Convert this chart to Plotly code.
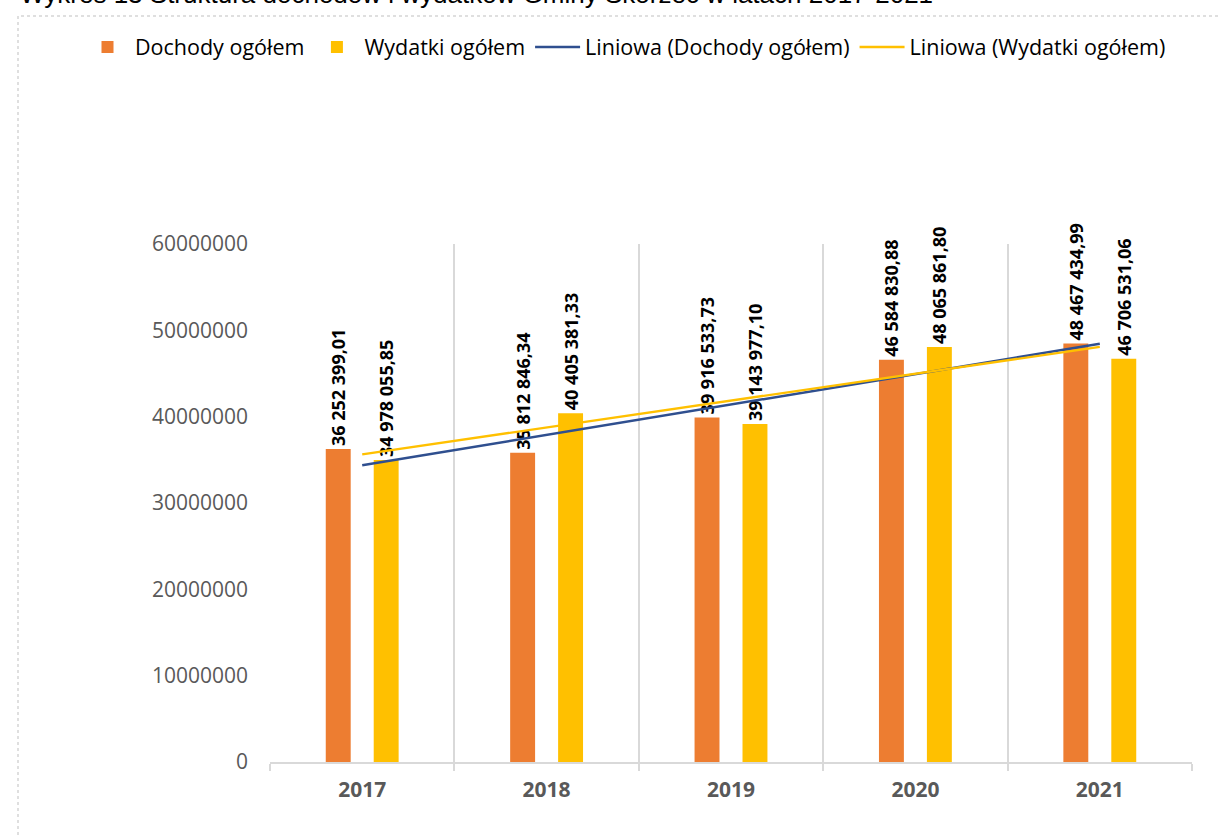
import numpy as np
import plotly.graph_objects as go

years = ["2017", "2018", "2019", "2020", "2021"]
dochody = [36252399.01, 35812846.34, 39916533.73, 46584830.88, 48467434.99]
wydatki = [34978055.85, 40405381.33, 39143977.10, 48065861.80, 46706531.06]
y_ticks = [0, 10000000, 20000000, 30000000, 40000000, 50000000, 60000000]
title_text = "Wykres 13 Struktura dochodów i wydatków Gminy Skórzec w latach 2017-2021"


def fmt(v):
    s = f"{v:,.2f}"
    return s.replace(",", " ").replace(".", ",")


def trend(vals):
    xs = np.arange(1, len(vals) + 1)
    a, b = np.polyfit(xs, vals, 1)
    return list(a * xs + b)


W, H = 1218, 838
L, R, T, B = 270, 1192, 244, 762


def px_x(p):
    return (p - L) / (R - L)


def px_y(p):
    return (B - p) / (B - T)


ORANGE = "#ED7D31"
YELLOW = "#FFC000"
BLUE = "#2F4F8F"
label_font = dict(family="Open Sans, Liberation Sans, sans-serif", size=18, color="black", weight="bold")

fig = go.Figure()
fig.add_trace(go.Bar(
    x=years, y=dochody, name="Dochody ogółem", marker=dict(color=ORANGE, line=dict(width=0)),
    text=[fmt(v) for v in dochody], textposition="outside", textangle=-90,
    textfont=label_font, cliponaxis=False, constraintext="none",
))
fig.add_trace(go.Bar(
    x=years, y=wydatki, name="Wydatki ogółem", marker=dict(color=YELLOW, line=dict(width=0)),
    text=[fmt(v) for v in wydatki], textposition="outside", textangle=-90,
    textfont=label_font, cliponaxis=False, constraintext="none",
))
fig.add_trace(go.Scatter(
    x=years, y=trend(dochody), mode="lines", name="Liniowa (Dochody ogółem)",
    line=dict(color=BLUE, width=2.4),
))
fig.add_trace(go.Scatter(
    x=years, y=trend(wydatki), mode="lines", name="Liniowa (Wydatki ogółem)",
    line=dict(color=YELLOW, width=2.4),
))

fig.update_layout(
    width=W, height=H,
    margin=dict(l=L, r=W - R, t=T, b=H - B, pad=0),
    paper_bgcolor="white", plot_bgcolor="white",
    barmode="group", bargap=0.48, bargroupgap=0.48,
    font=dict(family="Open Sans, Liberation Sans, sans-serif", color="#595959"),
    legend=dict(
        orientation="h", xref="paper", yref="paper",
        x=px_x(80), xanchor="left", y=px_y(47), yanchor="middle",
        font=dict(size=21.5, color="black"), traceorder="normal",
        itemwidth=45, bgcolor="rgba(0,0,0,0)",
    ),
    xaxis=dict(
        type="category", tickson="boundaries", showgrid=True, gridcolor="#d9d9d9", gridwidth=1.5,
        showline=True, linecolor="#d9d9d9", linewidth=2,
        ticks="outside", ticklen=7, tickcolor="#d9d9d9", tickwidth=1.5,
        tickfont=dict(size=21, color="#595959", weight="bold"),
        ticklabelstandoff=8,
    ),
    yaxis=dict(
        range=[0, 60000000], tickvals=y_ticks, ticktext=[str(v) for v in y_ticks],
        showgrid=False, zeroline=False, showline=False,
        tickfont=dict(size=21, color="#595959"), ticklabelstandoff=21,
    ),
    shapes=[dict(
        type="rect", xref="paper", yref="paper",
        x0=px_x(18), x1=px_x(1240), y0=px_y(860), y1=px_y(16),
        line=dict(color="#bfbfbf", width=1, dash="dot"), fillcolor="rgba(0,0,0,0)", layer="below",
    )],
    annotations=[dict(
        text=title_text, xref="paper", yref="paper", x=px_x(18), y=px_y(-6),
        xanchor="left", yanchor="middle", showarrow=False,
        font=dict(family="Liberation Sans, Arial, sans-serif", size=26, color="black"),
    )],
)

fig.write_html("out.html", config={"displayModeBar": False},
               post_script="document.body.style.margin='0';")
